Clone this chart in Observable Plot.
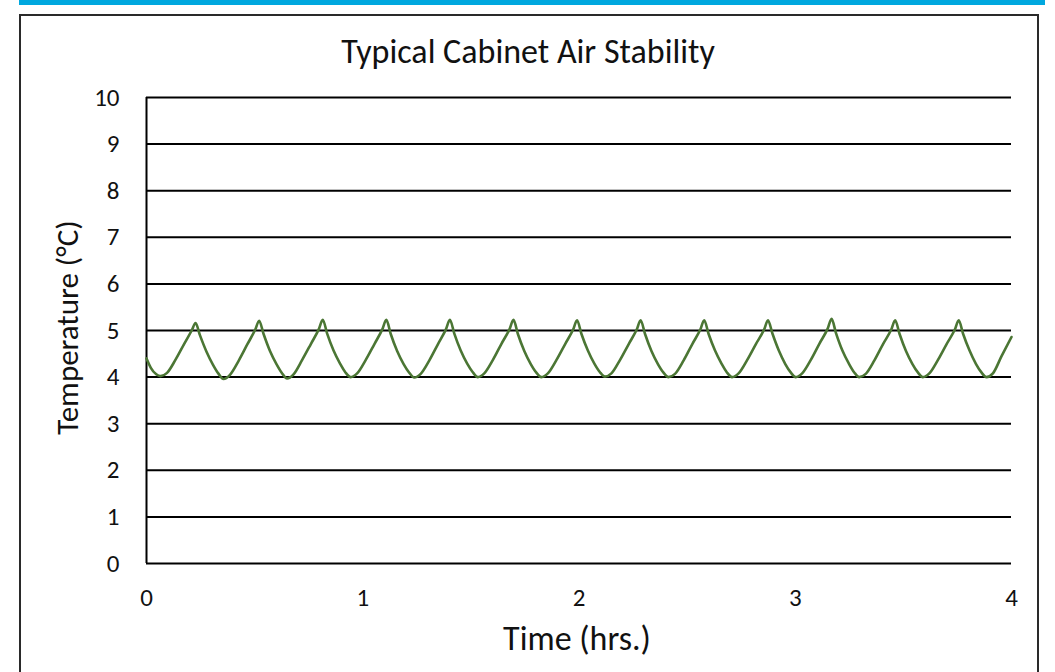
<!DOCTYPE html>
<html>
<head>
<meta charset="utf-8">
<script src="https://cdn.jsdelivr.net/npm/d3@7"></script>
<script src="https://cdn.jsdelivr.net/npm/@observablehq/plot@0.6"></script>
<style>
  html, body { margin: 0; padding: 0; background: #fff; }
  #page { position: relative; width: 1055px; height: 672px; overflow: hidden; }
  #bar { position: absolute; left: 19px; top: 0; width: 1026px; height: 5px; background: #00A8DF; }
  #box { position: absolute; left: 19px; top: 14px; width: 1016px; height: 720px; border: 2px solid #2a2a2a; }
  #chart { position: absolute; left: 0; top: 0; }
  #chart svg { background: transparent; }
</style>
</head>
<body>
<div id="page">
  <div id="bar"></div>
  <div id="box"></div>
  <div id="chart"></div>
</div>
<script>
const titleText = "Typical Cabinet Air Stability";
const xLabel = "Time (hrs.)";
const yLabel = "Temperature (°C)";
const yTicks = [0, 1, 2, 3, 4, 5, 6, 7, 8, 9, 10];
const xTicks = [0, 1, 2, 3, 4];

const timeHrs = [
  0.000, 0.020, 0.045,
  0.065, 0.095, 0.135, 0.175, 0.209, 0.227, 0.247, 0.277, 0.307, 0.332,
  0.356, 0.386, 0.426, 0.466, 0.503, 0.521, 0.541, 0.571, 0.601, 0.626,
  0.650, 0.680, 0.720, 0.760, 0.797, 0.815, 0.835, 0.865, 0.895, 0.920,
  0.944, 0.974, 1.014, 1.054, 1.091, 1.109, 1.129, 1.159, 1.189, 1.214,
  1.238, 1.268, 1.308, 1.348, 1.385, 1.403, 1.423, 1.453, 1.483, 1.508,
  1.532, 1.562, 1.602, 1.642, 1.679, 1.697, 1.717, 1.747, 1.777, 1.802,
  1.826, 1.856, 1.896, 1.936, 1.973, 1.991, 2.011, 2.041, 2.071, 2.096,
  2.120, 2.150, 2.190, 2.230, 2.267, 2.285, 2.305, 2.335, 2.365, 2.390,
  2.414, 2.444, 2.484, 2.524, 2.561, 2.579, 2.599, 2.629, 2.659, 2.684,
  2.708, 2.738, 2.778, 2.818, 2.856, 2.874, 2.894, 2.924, 2.954, 2.979,
  3.002, 3.032, 3.072, 3.112, 3.150, 3.168, 3.188, 3.218, 3.248, 3.273,
  3.296, 3.326, 3.366, 3.406, 3.444, 3.462, 3.482, 3.512, 3.542, 3.567,
  3.590, 3.620, 3.660, 3.700, 3.738, 3.756, 3.776, 3.806, 3.836, 3.861,
  3.884, 3.914, 3.954, 4.000
];
const tempC = [
  4.40, 4.20, 4.06,
  4.02, 4.09, 4.38, 4.72, 5.00, 5.16, 4.90, 4.55, 4.27, 4.08,
  3.96, 4.05, 4.35, 4.70, 5.02, 5.21, 4.93, 4.56, 4.28, 4.09,
  3.97, 4.06, 4.37, 4.71, 5.03, 5.23, 4.94, 4.57, 4.29, 4.10,
  4.00, 4.08, 4.37, 4.71, 5.03, 5.23, 4.93, 4.56, 4.28, 4.10,
  3.99, 4.07, 4.36, 4.71, 5.03, 5.23, 4.94, 4.57, 4.29, 4.11,
  4.00, 4.08, 4.37, 4.72, 5.03, 5.23, 4.93, 4.56, 4.28, 4.10,
  4.00, 4.08, 4.37, 4.71, 5.02, 5.22, 4.93, 4.57, 4.29, 4.11,
  4.01, 4.08, 4.37, 4.71, 5.02, 5.22, 4.93, 4.56, 4.28, 4.10,
  4.00, 4.07, 4.36, 4.71, 5.02, 5.22, 4.93, 4.57, 4.29, 4.10,
  4.00, 4.08, 4.37, 4.71, 5.02, 5.22, 4.94, 4.57, 4.28, 4.10,
  4.00, 4.08, 4.37, 4.72, 5.04, 5.25, 4.95, 4.57, 4.29, 4.10,
  4.00, 4.07, 4.36, 4.71, 5.02, 5.22, 4.93, 4.56, 4.28, 4.10,
  4.00, 4.08, 4.37, 4.71, 5.02, 5.22, 4.93, 4.57, 4.28, 4.10,
  4.00, 4.08, 4.45, 4.86
];

const data = timeHrs.map((t, i) => ({time: t, temp: tempC[i]}));
const FONT = "Carlito, 'Open Sans', Lato, sans-serif";

const chart = Plot.plot({
  width: 1055,
  height: 672,
  marginLeft: 146,
  marginRight: 44,
  marginTop: 97,
  marginBottom: 109,
  style: {fontFamily: FONT, fontSize: "25px", color: "#111", background: "transparent"},
  x: {domain: [0, 4], label: null},
  y: {domain: [0, 10], label: null},
  marks: [
    Plot.ruleY(yTicks, {stroke: "#000", strokeWidth: 2}),
    Plot.ruleX([0], {stroke: "#000", strokeWidth: 2}),
    Plot.line(data, {x: "time", y: "temp", stroke: "#4B7634", strokeWidth: 2.6, curve: "monotone-x"}),
    Plot.axisY({ticks: yTicks, tickSize: 0, tickPadding: 27, tickFormat: "d", label: null, fontSize: 25}),
    Plot.axisX({ticks: xTicks, tickSize: 0, tickPadding: 25, tickFormat: "d", label: null, fontSize: 25}),
    Plot.text([titleText], {frameAnchor: "top", dx: -51, dy: -45, fontSize: 34, lineAnchor: "middle", textAnchor: "middle", fill: "#111"}),
    Plot.text([xLabel], {frameAnchor: "bottom", dx: -2, dy: 76, fontSize: 34, lineAnchor: "middle", textAnchor: "middle", fill: "#111"}),
    Plot.text([yLabel], {frameAnchor: "left", dx: -78, dy: -3, rotate: -90, fontSize: 31, lineAnchor: "middle", textAnchor: "middle", fill: "#111"})
  ]
});
document.getElementById("chart").appendChild(chart);
</script>
</body>
</html>
